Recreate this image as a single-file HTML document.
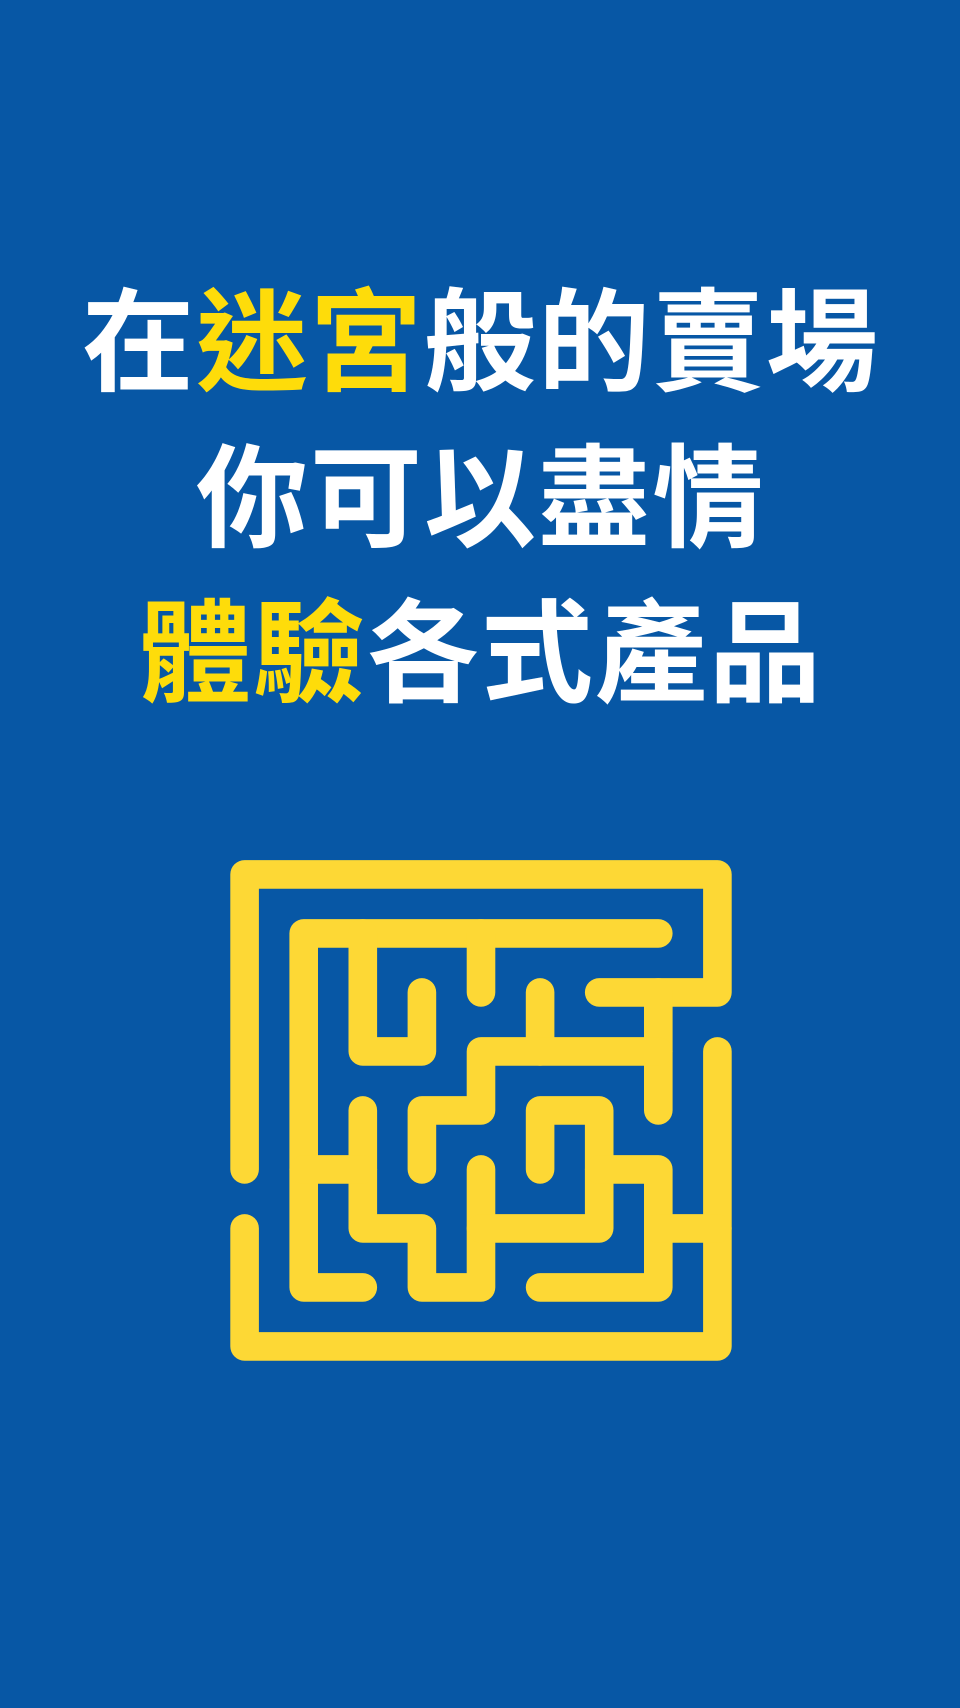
<!DOCTYPE html>
<html><head><meta charset="utf-8"><style>
html,body{margin:0;padding:0}
body{width:960px;height:1708px;background:#0757a5;position:relative;overflow:hidden;font-family:"Liberation Sans","Noto Sans CJK TC",sans-serif}
.line{position:absolute;left:0;width:962px;text-align:center;font-weight:bold;font-size:112px;line-height:120px;color:#fff;white-space:nowrap;letter-spacing:2px}
.y{color:#fedc0a}
svg{position:absolute;left:0;top:0}
</style></head><body>
<div class="line" style="top:284px">在<span class="y">迷宮</span>般的賣場</div>
<div class="line" style="top:440px">你可以盡情</div>
<div class="line" style="top:595px"><span class="y">體驗</span>各式產品</div>
<svg width="960" height="1708">
<g id="maze" fill="none" stroke="#fdd835" stroke-width="28.6" stroke-linecap="round" stroke-linejoin="round"></g>
</svg>
<script>
const paths=[
[[0,5],[0,0],[8,0],[8,2],[6,2]],
[[7,2],[7,4]],
[[0,6],[0,8],[8,8],[8,3]],
[[7,1],[1,1],[1,7],[2,7]],
[[2,1],[2,3],[3,3],[3,2]],
[[4,1],[4,2]],
[[5,2],[5,3]],
[[7,3],[4,3],[4,4],[3,4],[3,5]],
[[2,4],[2,6],[3,6],[3,7],[4,7],[4,5]],
[[1,5],[2,5]],
[[5,5],[5,4],[6,4],[6,6],[4,6]],
[[6,5],[7,5],[7,7],[5,7]],
[[7,6],[8,6]]
];
const g=document.getElementById('maze');
const X=c=>244.6+c*59.1, Y=r=>874.4+r*59;
paths.forEach((p,i)=>{
const el=document.createElementNS('http://www.w3.org/2000/svg','path');
el.setAttribute('d',p.map((q,j)=>(j?'L':'M')+X(q[0]).toFixed(1)+','+Y(q[1]).toFixed(1)).join(''));


g.appendChild(el);
});
</script>
</body></html>
